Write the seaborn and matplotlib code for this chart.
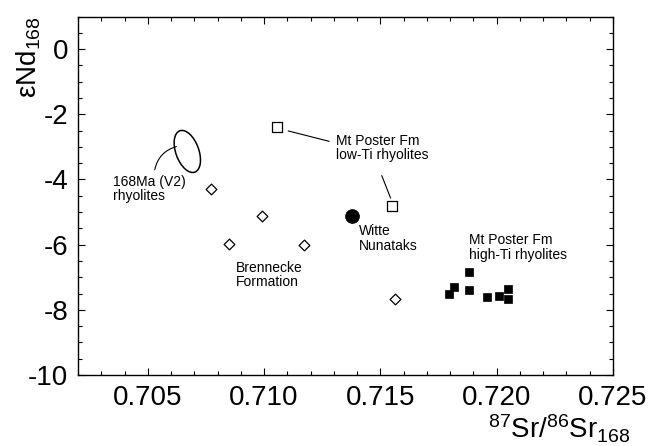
import matplotlib
matplotlib.use("Agg")
import matplotlib.pyplot as plt
import seaborn as sns
from matplotlib.patches import Ellipse
from matplotlib.ticker import MultipleLocator, FormatStrFormatter
from matplotlib.transforms import ScaledTranslation


# Brennecke Formation (open diamonds)
brennecke_sr = [0.70773, 0.70992, 0.70851, 0.71170, 0.71563]
brennecke_nd = [-4.29, -5.13, -5.97, -6.02, -7.68]

# Mt Poster Fm low-Ti rhyolites (open squares)
lowti_sr = [0.71056, 0.71549]
lowti_nd = [-2.38, -4.82]

# Witte Nunataks (filled circle)
witte_sr = [0.71380]
witte_nd = [-5.13]

# Mt Poster Fm high-Ti rhyolites (filled squares)
highti_sr = [0.71794, 0.71816, 0.71883, 0.71880, 0.71958, 0.72009, 0.72047, 0.72047]
highti_nd = [-7.50, -7.30, -6.83, -7.40, -7.59, -7.57, -7.37, -7.68]

# 168Ma (V2) rhyolite field
v2_center = (0.7067, -3.14)
v2_size_in = (0.23, 0.44)  # inches, minor/major axis
v2_angle = 20

x_ticks = [0.705, 0.710, 0.715, 0.720, 0.725]
y_ticks = [0, -2, -4, -6, -8, -10]


sns.set_style("ticks")
plt.rcParams["font.family"] = ["Liberation Sans", "DejaVu Sans"]
plt.rcParams["mathtext.default"] = "regular"
plt.rcParams["axes.unicode_minus"] = False
for key in ["text.color", "axes.labelcolor", "xtick.color", "ytick.color", "axes.edgecolor"]:
    plt.rcParams[key] = "black"

fig = plt.figure(figsize=(6.5, 4.46), dpi=100)
ax = fig.add_axes([0.12, 0.159, 0.823, 0.804])

sns.scatterplot(x=brennecke_sr, y=brennecke_nd, marker="D", s=30,
                color="white", edgecolor="black", linewidth=0.9, ax=ax, zorder=3)
sns.scatterplot(x=lowti_sr, y=lowti_nd, marker="s", s=42,
                color="white", edgecolor="black", linewidth=0.9, ax=ax, zorder=3)
sns.scatterplot(x=witte_sr, y=witte_nd, marker="o", s=100,
                color="black", edgecolor="black", linewidth=0.5, ax=ax, zorder=3)
sns.scatterplot(x=highti_sr, y=highti_nd, marker="s", s=36,
                color="black", edgecolor="black", linewidth=0.5, ax=ax, zorder=3)

# ellipse sized in inches, centred on a data point
ell = Ellipse((0, 0), v2_size_in[0], v2_size_in[1], angle=v2_angle,
              fill=False, ec="black", lw=1.1,
              transform=fig.dpi_scale_trans + ScaledTranslation(*v2_center, ax.transData))
ax.add_patch(ell)

# leader lines
line_kw = dict(arrowstyle="-", lw=0.8, color="black", shrinkA=0, shrinkB=0)
ax.annotate("", xy=(0.70623, -2.99), xytext=(0.70530, -3.70),
            arrowprops=dict(line_kw, connectionstyle="arc3,rad=-0.3"))
ax.annotate("", xy=(0.71104, -2.51), xytext=(0.71280, -2.83), arrowprops=line_kw)
ax.annotate("", xy=(0.71506, -3.88), xytext=(0.71544, -4.57), arrowprops=line_kw)

txt_kw = dict(fontsize=10, va="top", ha="left", linespacing=1.05)
ax.text(0.70351, -3.85, "168Ma (V2)\nrhyolites", **txt_kw)
ax.text(0.71309, -2.60, "Mt Poster Fm\nlow-Ti rhyolites", **txt_kw)
ax.text(0.71409, -5.38, "Witte\nNunataks", **txt_kw)
ax.text(0.71883, -5.64, "Mt Poster Fm\nhigh-Ti rhyolites", **txt_kw)
ax.text(0.70880, -6.49, "Brennecke\nFormation", **txt_kw)

ax.set_xlim(0.702, 0.725)
ax.set_ylim(-10, 1)
ax.set_xticks(x_ticks)
ax.set_yticks(y_ticks)
ax.xaxis.set_major_formatter(FormatStrFormatter("%.3f"))
ax.xaxis.set_minor_locator(MultipleLocator(0.001))
ax.yaxis.set_minor_locator(MultipleLocator(0.5))
ax.tick_params(which="both", direction="in", top=True, right=True,
               width=0.8, color="black", labelsize=20)
ax.tick_params(which="major", length=5, pad=7)
ax.tick_params(which="minor", length=3)
for sp in ax.spines.values():
    sp.set_linewidth(1.0)
    sp.set_color("black")

ax.set_xlabel("$^{87}$Sr/$^{86}$Sr$_{168}$", fontsize=20, ha="right", va="top")
ax.xaxis.set_label_coords(1.032, -0.105)
ax.set_ylabel("εNd$_{168}$", fontsize=20, loc="top")
ax.yaxis.set_label_coords(-0.065, 1.0)

fig.savefig("out.png", dpi=100)
